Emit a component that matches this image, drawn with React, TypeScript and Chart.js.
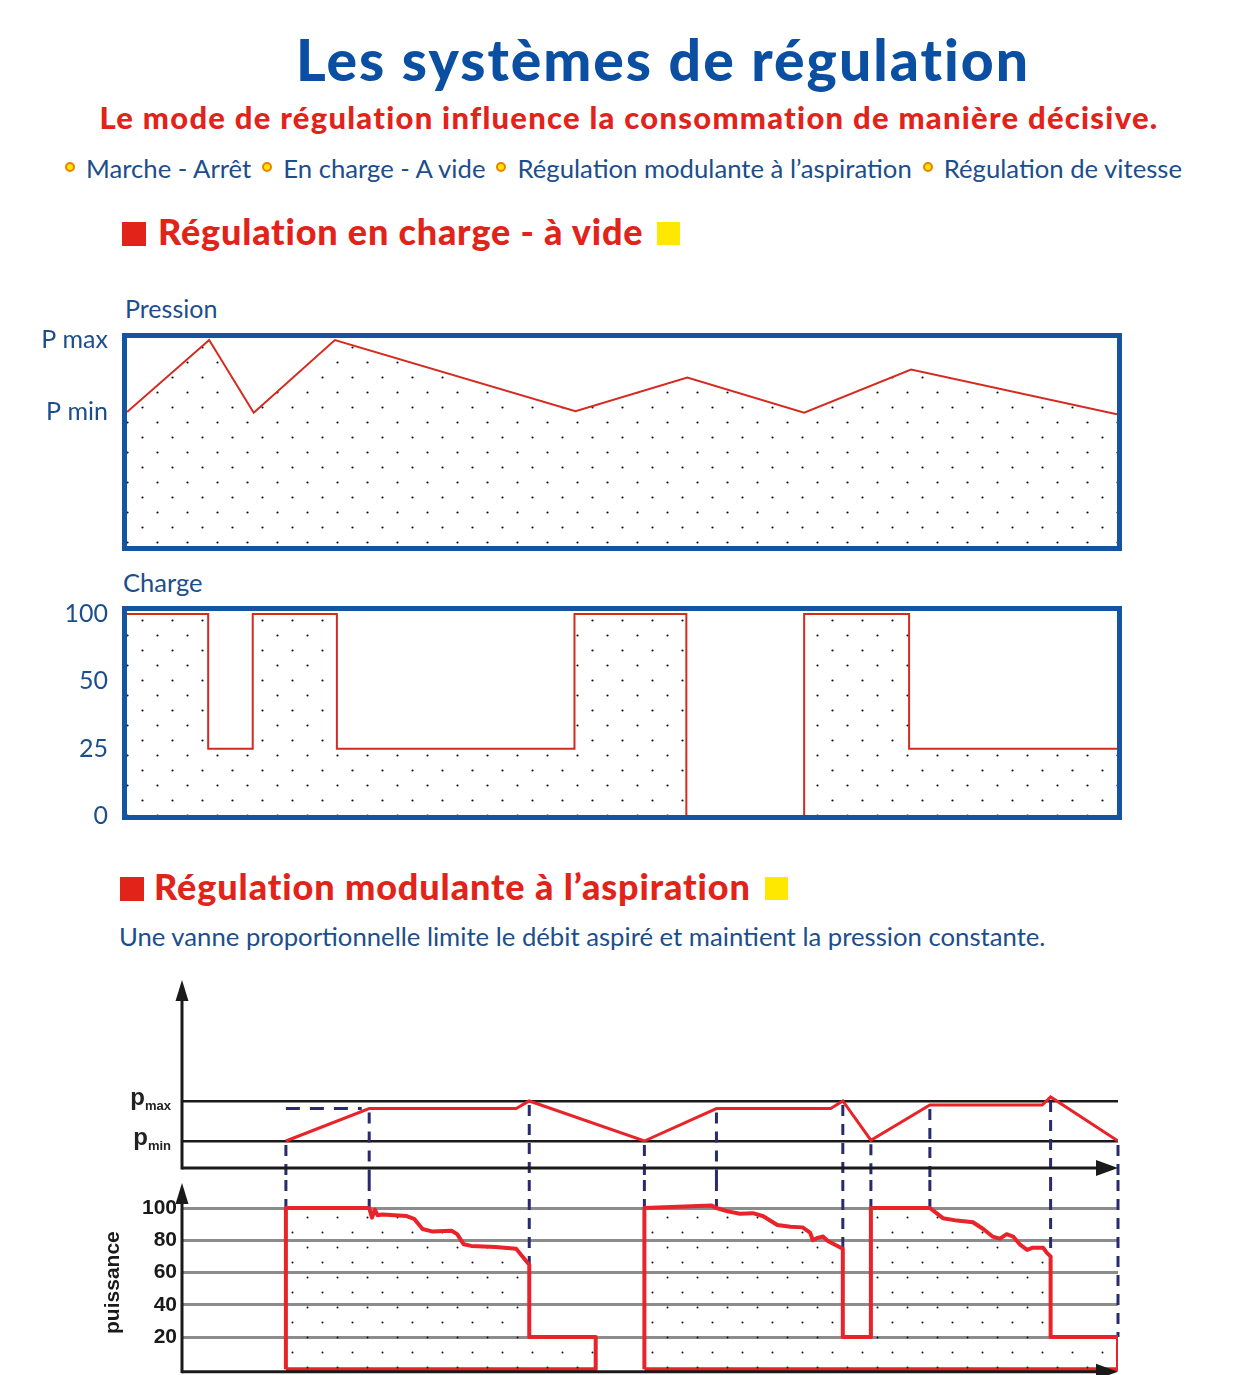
import React, { useEffect, useRef } from 'react';
import { Chart, registerables } from 'chart.js';
Chart.register(...registerables);

// ---------- DATA ----------
// Régulation en charge - à vide : pression
const enChargeTime = [0, 8.3, 12.8, 21.0, 45.3, 56.6, 68.4, 79.2, 100];
const enChargePressure = [6.0, 7.0, 5.99, 7.0, 6.01, 6.48, 5.99, 6.59, 5.97];
const pressureTickValues = [6, 7];
const pressureTickLabels = ['P min', 'P max'];

// Régulation en charge - à vide : charge (%)
const chargeTime = [0, 8.2, 12.7, 21.2, 45.2, 56.5, 68.4, 79.0, 100];
const chargeValues = [100, 25, 100, 25, 100, 0, 100, 25, 25];
const chargeTickLabels = ['100', '50', '25', '0'];

// Régulation modulante : pression
const modTime = [11.1, 20.0, 35.7, 37.1, 49.4, 57.1, 69.3, 70.6, 73.6, 79.9, 91.9, 92.8, 100];
const modPressure = [6.0, 6.81, 6.81, 7.0, 6.0, 6.81, 6.81, 7.0, 6.02, 6.9, 6.9, 7.1, 6.0];
const setpointTime = [11.1, 19.2];
const setpointPressure = [6.81, 6.81];
const modTickValues = [6, 7];
const modTickLabels = [{ main: 'p', sub: 'min' }, { main: 'p', sub: 'max' }];
const eventTimes = [11.1, 20.0, 37.1, 49.4, 57.1, 70.6, 73.6, 79.9, 92.8, 100];

// Régulation modulante : puissance (%)
const powerATime = [11.1, 11.1, 20.0, 20.3, 20.6, 20.9, 21.4, 24.0, 24.8, 25.7, 26.7, 28.8, 29.4, 30.1, 30.9, 33.5, 35.7, 36.2, 37.1, 37.1, 44.2, 44.2];
const powerAValue = [0, 100, 100, 94, 99, 95.5, 96, 95, 93.3, 87, 85.5, 85.9, 83.8, 77.5, 76.5, 75.8, 74.7, 71.2, 64.8, 20, 20, 0];
const powerBTime = [49.4, 49.4, 56.6, 57.1, 58.2, 59.6, 61.0, 62.1, 63.6, 65.0, 66.3, 67.1, 67.4, 67.9, 68.5, 68.9, 69.2, 70.6, 70.6, 73.6, 73.6, 79.9, 81.3, 82.8, 84.5, 85.6, 86.6, 87.4, 88.1, 88.8, 89.5, 90.3, 90.9, 92.0, 92.4, 92.8, 92.8, 100, 100];
const powerBValue = [0, 100, 101.5, 100, 98.1, 96.4, 96.8, 94.9, 89.5, 88.4, 88, 84.8, 80, 81.5, 82.3, 80, 78.9, 74.7, 20, 20, 100, 100, 93.7, 92.2, 91.2, 87, 82.3, 81, 83.8, 82.3, 77.5, 74, 75.4, 75.4, 72.2, 70, 20, 20, 0];
const powerTickValues = [20, 40, 60, 80, 100];

// ---------- STYLE ----------
const FONT = "'Lato', 'Noto Sans', sans-serif";
const ARIAL = "'Liberation Sans', Arial, sans-serif";
const TITLE_BLUE = '#0b4fa3';
const TEXT_BLUE = '#1c4e8c';
const FRAME_BLUE = '#1553a3';
const RED = '#e2231a';
const LINE_RED = '#d42a20';
const POWER_RED = '#e8232a';
const NAVY = '#2a2a6e';
const BLACK = '#1a1a1a';

function dotPattern(ctx: CanvasRenderingContext2D, r: number) {
  const c = document.createElement('canvas');
  c.width = 30; c.height = 30;
  const g = c.getContext('2d')!;
  g.fillStyle = '#111';
  [[7.5, 7.5], [22.5, 22.5]].forEach(([x, y]) => { g.beginPath(); g.arc(x, y, r, 0, Math.PI * 2); g.fill(); });
  return ctx.createPattern(c, 'repeat')!;
}

const pts = (xs: number[], ys: any[]) => xs.map((x, i) => ({ x, y: ys[i] }));

function interp(xs: number[], ys: number[], t: number) {
  for (let i = 0; i < xs.length - 1; i++) {
    if (t >= xs[i] && t <= xs[i + 1]) {
      const d = xs[i + 1] - xs[i];
      return d === 0 ? ys[i] : ys[i] + (ys[i + 1] - ys[i]) * (t - xs[i]) / d;
    }
  }
  return ys[ys.length - 1];
}
function powerAt(t: number) {
  const all = [...pts(powerATime, powerAValue), ...pts(powerBTime, powerBValue)];
  const near = all.filter(p => Math.abs(p.x - t) < 0.2);
  if (near.length) return Math.max(...near.map(p => p.y));
  const seg = t < 47 ? [powerATime, powerAValue] : [powerBTime, powerBValue];
  return interp(seg[0], seg[1], t);
}

const fixWidth = (w: number) => (s: any) => { s.width = w; s.paddingTop = 0; s.paddingBottom = 0; };

const framePlugin = {
  id: 'frame',
  afterDatasetsDraw(chart: any, _a: any, o: any) {
    const { ctx, chartArea: a } = chart;
    ctx.save();
    ctx.strokeStyle = FRAME_BLUE;
    ctx.lineWidth = 5;
    ctx.strokeRect(a.left - 2.5, a.top - o.top, a.right - a.left + 5, a.bottom - a.top + o.top + o.bottom);
    ctx.restore();
  },
};

const arrowAxesPlugin = {
  id: 'arrowAxes',
  afterDatasetsDraw(chart: any, _a: any, o: any) {
    const { ctx, chartArea: a } = chart;
    const y0 = o.axisValue !== undefined ? chart.scales.y.getPixelForValue(o.axisValue) : a.bottom;
    const tipY = a.top - o.tipTop;
    ctx.save();
    ctx.strokeStyle = BLACK; ctx.fillStyle = BLACK; ctx.lineWidth = 3;
    ctx.beginPath(); ctx.moveTo(a.left, y0 + 1.5); ctx.lineTo(a.left, tipY + 10); ctx.stroke();
    ctx.beginPath(); ctx.moveTo(a.left, tipY); ctx.lineTo(a.left - 6.5, tipY + 21); ctx.lineTo(a.left + 6.5, tipY + 21); ctx.closePath(); ctx.fill();
    ctx.beginPath(); ctx.moveTo(a.left, y0); ctx.lineTo(a.right - 10, y0); ctx.stroke();
    ctx.beginPath(); ctx.moveTo(a.right, y0); ctx.lineTo(a.right - 22, y0 - 8); ctx.lineTo(a.right - 22, y0 + 8); ctx.closePath(); ctx.fill();
    ctx.restore();
  },
};

const eventDashPlugin = {
  id: 'eventDash',
  beforeDatasetsDraw(chart: any, _a: any, o: any) {
    const { ctx } = chart;
    const xs = chart.scales.x, ys = chart.scales.y;
    ctx.save();
    ctx.strokeStyle = NAVY; ctx.lineWidth = 3; ctx.setLineDash([11, 8]);
    eventTimes.forEach(t => {
      const x = xs.getPixelForValue(t);
      let yA: number, yB: number;
      if (o.mode === 'pressure') { yA = ys.getPixelForValue(interp(modTime, modPressure, t)) + 4; yB = chart.height; }
      else { yA = 0; yB = ys.getPixelForValue(powerAt(t)); }
      ctx.beginPath(); ctx.moveTo(x, yA); ctx.lineTo(x, yB); ctx.stroke();
    });
    ctx.restore();
  },
};

const subLabelPlugin = {
  id: 'subLabels',
  afterDraw(chart: any) {
    const { ctx } = chart;
    const ys = chart.scales.y;
    ctx.save();
    ctx.fillStyle = '#222';
    ctx.textBaseline = 'alphabetic';
    modTickValues.forEach((v, i) => {
      const y = ys.getPixelForValue(v);
      const lab = modTickLabels[i];
      ctx.font = `bold 13px ${ARIAL}`;
      const sw = ctx.measureText(lab.sub).width;
      ctx.font = `bold 24px ${ARIAL}`;
      const pw = ctx.measureText(lab.main).width;
      const xr = 171;
      ctx.fillText(lab.main, xr - sw - pw, y + 4);
      ctx.font = `bold 13px ${ARIAL}`;
      ctx.fillText(lab.sub, xr - sw, y + 9);
    });
    ctx.restore();
  },
};

function ChartBox({ left, top, width, height, make }: any) {
  const ref = useRef<HTMLCanvasElement>(null);
  useEffect(() => {
    const ctx = ref.current!.getContext('2d')!;
    const chart = new Chart(ctx, make(ctx));
    return () => chart.destroy();
  }, []);
  return (
    <div style={{ position: 'absolute', left, top, width, height }}>
      <canvas ref={ref} />
    </div>
  );
}

const baseOpts = {
  animation: false as const,
  responsive: true,
  maintainAspectRatio: false,
  events: [] as any[],
};

function makePressure(ctx: CanvasRenderingContext2D): any {
  return {
    type: 'line',
    data: {
      datasets: [{
        data: pts(enChargeTime, enChargePressure),
        borderColor: LINE_RED, borderWidth: 2, pointRadius: 0, tension: 0,
        fill: 'start', backgroundColor: dotPattern(ctx, 1.1),
      }],
    },
    options: {
      ...baseOpts,
      layout: { padding: { top: 13, bottom: 14, right: 13, left: 0 } },
      plugins: { legend: { display: false }, tooltip: { enabled: false }, frame: { top: 2.5, bottom: 2.5 } },
      scales: {
        x: { type: 'linear', min: 0, max: 100, display: false },
        y: {
          type: 'linear', min: 4.139, max: 7.028,
          grid: { display: false, drawTicks: false }, border: { display: false },
          afterFit: fixWidth(127),
          afterBuildTicks: (s: any) => { s.ticks = pressureTickValues.map(v => ({ value: v })); },
          ticks: { padding: 19, color: TEXT_BLUE, font: { family: FONT, size: 25 }, callback: (_v: any, i: number) => pressureTickLabels[i] },
        },
      },
    },
    plugins: [framePlugin],
  };
}

function makeCharge(ctx: CanvasRenderingContext2D): any {
  return {
    type: 'line',
    data: {
      datasets: [{
        data: pts(chargeTime, chargeValues.map(v => String(v))),
        borderColor: LINE_RED, borderWidth: 2, pointRadius: 0, stepped: 'before',
        fill: { value: chargeTickLabels.indexOf('0') }, backgroundColor: dotPattern(ctx, 1.1),
      }],
    },
    options: {
      ...baseOpts,
      layout: { padding: { top: 16, bottom: 12, right: 13, left: 0 } },
      plugins: { legend: { display: false }, tooltip: { enabled: false }, frame: { top: 5.5, bottom: 1.5 } },
      scales: {
        x: { type: 'linear', min: 0, max: 100, display: false },
        y: {
          type: 'category', labels: chargeTickLabels,
          grid: { display: false, drawTicks: false }, border: { display: false },
          afterFit: fixWidth(127),
          ticks: { padding: 19, color: TEXT_BLUE, font: { family: FONT, size: 25 }, autoSkip: false },
        },
      },
    },
    plugins: [framePlugin],
  };
}

function makeModPressure(_ctx: CanvasRenderingContext2D): any {
  return {
    type: 'line',
    data: {
      datasets: [
        { data: pts(modTime, modPressure), borderColor: POWER_RED, borderWidth: 3, pointRadius: 0, tension: 0, fill: false },
        { data: pts(setpointTime, setpointPressure), borderColor: NAVY, borderWidth: 3, borderDash: [14, 10], pointRadius: 0, fill: false },
      ],
    },
    options: {
      ...baseOpts,
      layout: { padding: { top: 20, bottom: 12, right: 17, left: 0 } },
      plugins: { legend: { display: false }, tooltip: { enabled: false }, eventDash: { mode: 'pressure' }, arrowAxes: { tipTop: 10 } },
      scales: {
        x: { type: 'linear', min: 0, max: 100, display: false },
        y: {
          type: 'linear', min: 5.325, max: 9.775,
          grid: { color: BLACK, lineWidth: 2.5, drawTicks: false }, border: { display: false },
          afterFit: fixWidth(182),
          afterBuildTicks: (s: any) => { s.ticks = modTickValues.map(v => ({ value: v })); },
          ticks: { display: false },
        },
      },
    },
    plugins: [eventDashPlugin, arrowAxesPlugin, subLabelPlugin],
  };
}

function makePower(ctx: CanvasRenderingContext2D): any {
  const a = pts(powerATime, powerAValue);
  const b = pts(powerBTime, powerBValue);
  const gapX = (powerATime[powerATime.length - 1] + powerBTime[0]) / 2;
  const profile = [...a, { x: gapX, y: null }, ...b];
  const base = [
    { x: powerATime[0], y: 0 }, { x: powerATime[powerATime.length - 1], y: 0 }, { x: gapX, y: null },
    { x: powerBTime[0], y: 0 }, { x: powerBTime[powerBTime.length - 1], y: 0 },
  ];
  return {
    type: 'line',
    data: {
      datasets: [
        { data: profile, borderColor: POWER_RED, borderWidth: 4, pointRadius: 0, tension: 0, spanGaps: false, fill: 'origin', backgroundColor: dotPattern(ctx, 1.0), borderJoinStyle: 'round' },
        { data: base, borderColor: POWER_RED, borderWidth: 4, pointRadius: 0, spanGaps: false, fill: false },
      ],
    },
    options: {
      ...baseOpts,
      layout: { padding: { top: 11.9, bottom: 1.7, right: 17, left: 97 } },
      plugins: { legend: { display: false }, tooltip: { enabled: false }, eventDash: { mode: 'power' }, arrowAxes: { tipTop: 9, axisValue: -1.5 } },
      scales: {
        x: { type: 'linear', min: 0, max: 100, display: false },
        y: {
          type: 'linear', min: -2.5, max: 110,
          grid: { color: '#8c8c8c', lineWidth: 3, drawTicks: false }, border: { display: false },
          afterFit: fixWidth(85),
          afterBuildTicks: (s: any) => { s.ticks = powerTickValues.map(v => ({ value: v })); },
          ticks: { padding: 5, color: BLACK, font: { family: ARIAL, size: 21, weight: 'bold' } },
          title: { display: true, text: 'puissance', color: BLACK, font: { family: ARIAL, size: 21, weight: 'bold' }, padding: { top: 4, bottom: 4 } },
        },
      },
    },
    plugins: [eventDashPlugin, arrowAxesPlugin],
  };
}

const abs = (left: number, top: number, extra: any = {}) => ({ position: 'absolute' as const, left, top, whiteSpace: 'nowrap' as const, lineHeight: 1, fontFamily: FONT, ...extra });

function Bullet() {
  return <span style={{ display: 'inline-block', width: 6, height: 6, borderRadius: '50%', border: '2px solid #f07f00', background: '#ffe600', verticalAlign: 'middle', margin: '0 11px', position: 'relative', top: -4 }} />;
}

function Heading({ left, top, sqLeft, sqTop, text, size, spacing }: any) {
  return (
    <>
      <div style={{ position: 'absolute', left: sqLeft, top: sqTop, width: 24, height: 24, background: RED }} />
      <div style={abs(left, top, { fontSize: size, fontWeight: 900, letterSpacing: spacing, color: RED })}>
        {text}
        <span style={{ display: 'inline-block', width: 23, height: 23, background: '#ffe800', marginLeft: 14, verticalAlign: 'baseline' }} />
      </div>
    </>
  );
}

export default function App() {
  return (
    <div style={{ position: 'absolute', left: 0, top: 0, width: 1241, height: 1375, background: '#fff', overflow: 'hidden' }}>
      <div style={abs(663, 31, { fontSize: 57, fontWeight: 900, letterSpacing: 2, color: TITLE_BLUE, transform: 'translateX(-50%)' })}>Les systèmes de régulation</div>
      <div style={abs(629, 102, { fontSize: 31, fontWeight: 900, letterSpacing: 1.25, color: RED, transform: 'translateX(-50%)' })}>Le mode de régulation influence la consommation de manière décisive.</div>
      <div style={abs(54, 156, { fontSize: 25.7, color: TEXT_BLUE })}>
        <Bullet />Marche - Arrêt<Bullet />En charge - A vide<Bullet />Régulation modulante à l’aspiration<Bullet />Régulation de vitesse
      </div>

      <Heading sqLeft={122} sqTop={222} left={158} top={213} size={36} spacing={0.8} text="Régulation en charge - à vide" />
      <div style={abs(125, 296, { fontSize: 25, color: TEXT_BLUE })}>Pression</div>
      <ChartBox left={0} top={325} width={1130} height={235} make={makePressure} />
      <div style={abs(123, 570, { fontSize: 25.5, color: TEXT_BLUE })}>Charge</div>
      <ChartBox left={0} top={598} width={1130} height={230} make={makeCharge} />

      <Heading sqLeft={120} sqTop={877} left={154} top={868} size={36} spacing={0.9} text="Régulation modulante à l’aspiration" />
      <div style={abs(119, 924, { fontSize: 25.7, color: TEXT_BLUE })}>Une vanne proportionnelle limite le débit aspiré et maintient la pression constante.</div>

      <ChartBox left={0} top={970} width={1135} height={210} make={makeModPressure} />
      <ChartBox left={0} top={1180} width={1135} height={195} make={makePower} />
    </div>
  );
}
